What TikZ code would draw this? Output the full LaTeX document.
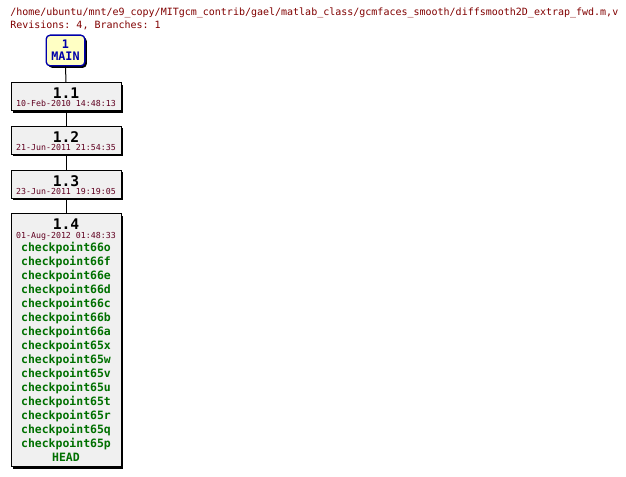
\documentclass[tikz,border=0pt]{standalone}
\usepackage{fontspec}
\setmonofont{DejaVu Sans Mono}
\usetikzlibrary{shadows}
\definecolor{titlered}{RGB}{128,0,0}
\definecolor{datered}{RGB}{96,0,32}
\definecolor{tagreen}{RGB}{0,112,0}
\definecolor{mainblue}{RGB}{0,0,170}
\definecolor{mainfill}{RGB}{255,255,196}
\definecolor{revfill}{RGB}{240,240,240}
\begin{document}
\begin{tikzpicture}[x=0.75pt,y=-0.75pt,
	revbox/.style={draw=black,fill=revfill,line width=0.75pt,inner sep=0pt,minimum width=82.5pt,
		drop shadow={shadow xshift=1.5pt,shadow yshift=-1.5pt,opacity=1,fill=black}},
	mainbox/.style={draw=mainblue,fill=mainfill,line width=1pt,rounded corners=3pt,inner sep=0pt,
		minimum width=29pt,minimum height=23pt,
		drop shadow={shadow xshift=1.5pt,shadow yshift=-1.5pt,opacity=1,fill=black}},
	titletext/.style={anchor=base west,inner sep=0pt,text=titlered,font=\ttfamily\fontsize{7.5pt}{9pt}\selectfont},
	vertext/.style={anchor=base,inner sep=0pt,font=\ttfamily\bfseries\fontsize{11pt}{12pt}\selectfont},
	datetext/.style={anchor=base,inner sep=0pt,text=datered,font=\ttfamily\fontsize{6.2pt}{7pt}\selectfont},
	tagtext/.style={anchor=base,inner sep=0pt,text=tagreen,font=\ttfamily\bfseries\fontsize{8.6pt}{10pt}\selectfont},
	maintext/.style={anchor=base,inner sep=0pt,text=mainblue,font=\ttfamily\bfseries\fontsize{8.8pt}{10pt}\selectfont},
	link/.style={line width=0.75pt}]
	\useasboundingbox (0,0) rectangle (626,477);
	% file header
	\node[titletext] (path) at (10,16) {/home/ubuntu/mnt/e9\_copy/MITgcm\_contrib/gael/matlab\_class/gcmfaces\_smooth/diffsmooth2D\_extrap\_fwd.m,v};
	\node[titletext] (revs) at (10,28.5) {Revisions: 4, Branches: 1};
	% branch head
	\node[mainbox] (main) at (65.5,50.5) {};
	\node[maintext] (mainnum) at (65.5,48.5) {1};
	\node[maintext] (mainname) at (65.5,61) {MAIN};
	% revisions
	\node[revbox,minimum height=21pt] (rev11) at (66,97) {};
	\node[vertext] (ver11) at (66,99) {1.1};
	\node[datetext] (date11) at (66,107) {10-Feb-2010 14:48:13};
	\node[revbox,minimum height=21pt] (rev12) at (66,140.5) {};
	\node[vertext] (ver12) at (66,142.5) {1.2};
	\node[datetext] (date12) at (66,150.5) {21-Jun-2011 21:54:35};
	\node[revbox,minimum height=21pt] (rev13) at (66,184.5) {};
	\node[vertext] (ver13) at (66,186.5) {1.3};
	\node[datetext] (date13) at (66,194.5) {23-Jun-2011 19:19:05};
	\node[revbox,minimum height=189.75pt] (rev14) at (66,340.5) {};
	\node[vertext] (ver14) at (66,230) {1.4};
	\node[datetext] (date14) at (66,239) {01-Aug-2012 01:48:33};
	\foreach \t [count=\i from 0] in {66o,66f,66e,66d,66c,66b,66a,65x,65w,65v,65u,65t,65r,65q,65p}
		\node[tagtext] (tag\i) at (66,252+14*\i) {checkpoint\t};
	\node[tagtext] (head) at (66,461.5) {HEAD};
	\draw[link] (main.south) -- (rev11.north);
	\draw[link] (rev11.south) -- (rev12.north);
	\draw[link] (rev12.south) -- (rev13.north);
	\draw[link] (rev13.south) -- (rev14.north);
\end{tikzpicture}
\end{document}
